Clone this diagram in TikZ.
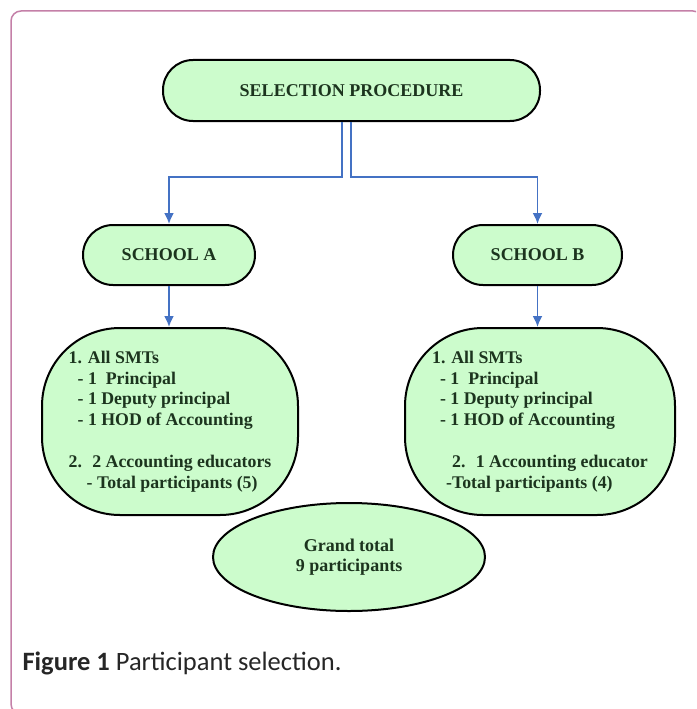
\documentclass[tikz,border=0pt]{standalone}
\usepackage{fontspec}
\setmainfont{Liberation Serif}
\newfontfamily\capfont{Carlito}
\usetikzlibrary{arrows.meta,shapes.geometric}
\definecolor{boxfill}{RGB}{204,252,204}
\definecolor{boxtext}{RGB}{28,52,30}
\definecolor{flowblue}{RGB}{68,114,196}
\definecolor{framepink}{RGB}{196,128,168}
\tikzset{
    stadium/.style={rectangle,rounded corners=30pt,draw=black,line width=2pt,fill=boxfill,text=boxtext,inner sep=0pt,font=\fontsize{18}{20.7}\selectfont\bfseries},
    bigbox/.style={rectangle,rounded corners=78pt,draw=black,line width=2pt,fill=boxfill,text=boxtext,align=left,inner sep=0pt,minimum height=187pt,font=\fontsize{17.8}{20.8}\selectfont\bfseries},
    total/.style={ellipse,draw=black,line width=2pt,fill=boxfill,text=boxtext,align=center,inner sep=0pt,minimum width=272pt,minimum height=108pt,font=\fontsize{18}{20}\selectfont\bfseries},
    flow/.style={->,> = {Latex[length=11pt,width=10pt]}, draw=flowblue, line width=1.8pt},
}
\begin{document}
\begin{tikzpicture}[x=1pt,y=-1pt]
    \useasboundingbox (0,0) rectangle (696,709);
    \begin{scope}
        \clip (0,0) rectangle (696,709);
        \draw[framepink, line width=1.5pt, rounded corners=10pt] (11,11) rectangle (703,714);
    \end{scope}
    \node[stadium, minimum width=377pt, minimum height=61pt] (sel) at (351.5,90.5) {SELECTION PROCEDURE};
    \node[stadium, minimum width=172pt, minimum height=60pt] (schA) at (169,255) {SCHOOL A};
    \node[stadium, minimum width=169pt, minimum height=60pt] (schB) at (537.5,255) {SCHOOL B};
    \node[bigbox, minimum width=256pt] (boxA) at (170,421.5) {1. All SMTs\\
        \hspace*{9pt}- 1 \ Principal\\
        \hspace*{9pt}- 1 Deputy principal\\
        \hspace*{9pt}- 1 HOD of Accounting\\[21pt]
        2. \ 2 Accounting educators\\
        \hspace*{18pt}- Total participants (5)};
    \node[bigbox, minimum width=270pt] (boxB) at (540,421.5) {1. All SMTs\\
        \hspace*{8pt}- 1 \ Principal\\
        \hspace*{8pt}- 1 Deputy principal\\
        \hspace*{8pt}- 1 HOD of Accounting\\[21pt]
        \hspace*{20pt}2. \ 1 Accounting educator\\
        \hspace*{14pt}-Total participants (4)};
    \node[total] (tot) at (349,557) {Grand total\\9 participants};
    \node[anchor=west, font=\capfont\fontsize{26.5}{30}\selectfont, text=black!85] (cap) at (19,663) {\textbf{Figure 1} Participant selection.};
    \coordinate (forkA) at (342,177);
    \coordinate (forkB) at (351,177);
    \draw[flow] (sel.south -| forkA) -- (forkA) -| (schA.north);
    \draw[flow] (sel.south -| forkB) -- (forkB) -| (schB.north);
    \draw[flow] (schA.south) -- (schA.south |- boxA.north);
    \draw[flow] (schB.south) -- (schB.south |- boxB.north);
\end{tikzpicture}
\end{document}
